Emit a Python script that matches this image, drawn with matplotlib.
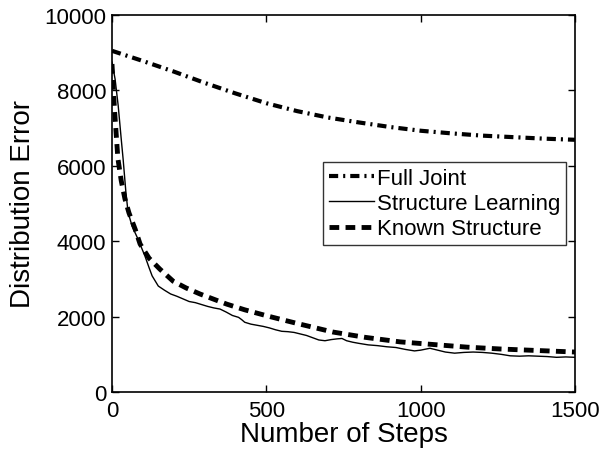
import numpy as np
import matplotlib
matplotlib.use('Agg')
import matplotlib.pyplot as plt

plt.rcParams['font.family'] = ['Liberation Sans', 'DejaVu Sans']

# Full Joint (dash-dot)
fj_x = [0, 100, 200, 300, 400, 500, 600, 700, 800, 900, 1000, 1100, 1200, 1300, 1400, 1500]
fj_y = [9050, 8780, 8500, 8200, 7920, 7660, 7450, 7280, 7150, 7030, 6930, 6860, 6800, 6760, 6720, 6690]

# Structure Learning (thin solid, noisy)
sl_x = [0, 10, 20, 30, 36, 45, 52, 65, 84, 107, 120, 130, 150, 170, 190, 210, 230, 250, 270, 290,
        310, 330, 350, 370, 390, 410, 420, 430, 450, 470, 490, 510, 530, 550, 570, 590, 610, 630,
        650, 670, 690, 710, 730, 745, 760, 780, 800, 830, 860, 890, 920, 950, 980, 1000, 1030,
        1050, 1080, 1110, 1140, 1170, 1200, 1230, 1260, 1290, 1320, 1350, 1380, 1410, 1440, 1470, 1500]
sl_y = [8750, 8300, 7600, 6700, 6180, 5300, 4770, 4400, 4060, 3600, 3300, 3080, 2810, 2700, 2600,
        2540, 2470, 2400, 2370, 2320, 2270, 2230, 2200, 2120, 2030, 1980, 1920, 1850, 1800, 1770,
        1740, 1700, 1650, 1610, 1600, 1580, 1540, 1500, 1440, 1380, 1360, 1390, 1410, 1420, 1360,
        1320, 1290, 1250, 1230, 1200, 1180, 1130, 1090, 1110, 1160, 1120, 1060, 1030, 1050, 1060,
        1050, 1030, 1000, 960, 950, 960, 950, 940, 920, 930, 920]

# Known Structure (thick dashed)
ks_x = [0, 8, 19, 30, 42, 55, 75, 91, 120, 155, 198, 240, 285, 330, 372, 430, 502, 560, 609, 716,
        820, 933, 1040, 1150, 1260, 1380, 1500]
ks_y = [8700, 7500, 6200, 5600, 5120, 4750, 4320, 3925, 3550, 3260, 2940, 2760, 2600, 2460, 2330,
        2180, 2020, 1900, 1800, 1590, 1450, 1330, 1260, 1190, 1140, 1100, 1060]

fig = plt.figure(figsize=(6.02, 4.56), dpi=100)
ax = fig.add_axes([112/602, 1-393/456, 463/602, 377/456])

ax.plot(fj_x, fj_y, color='black', lw=3, linestyle=(0, (2.2, 1.2, 0.5, 1.2)), label='Full Joint')
ax.plot(sl_x, sl_y, color='black', lw=1, linestyle='-', label='Structure Learning')
ax.plot(ks_x, ks_y, color='black', lw=3.5, linestyle=(0, (2.0, 1.3)), label='Known Structure')

ax.set_xlim(0, 1500)
ax.set_ylim(0, 10000)
ax.set_xticks([0, 500, 1000, 1500])
ax.set_yticks([0, 2000, 4000, 6000, 8000, 10000])
ax.tick_params(direction='in', top=True, right=True, labelsize=16, length=5, width=1)
ax.tick_params(axis='x', pad=6)
ax.tick_params(axis='y', pad=4)
for s in ax.spines.values():
    s.set_linewidth(1.2)

ax.set_xlabel('Number of Steps', fontsize=20, labelpad=0)
ax.set_ylabel('Distribution Error', fontsize=20, labelpad=6)

leg = ax.legend(loc='upper left', bbox_to_anchor=((323-112)/463, (393-163)/377),
                fontsize=16, frameon=True, fancybox=False, edgecolor='black',
                handlelength=2.05, handletextpad=0.15, borderpad=0.25, labelspacing=0.2,
                borderaxespad=0)
leg.get_frame().set_linewidth(1.0)

fig.savefig('out.png', dpi=100)
